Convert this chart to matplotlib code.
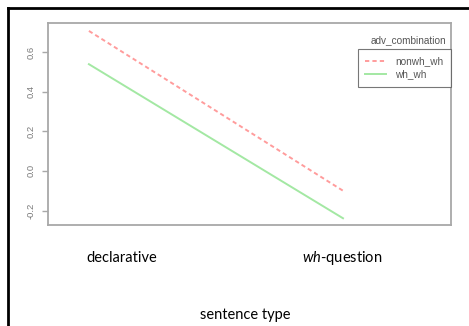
import matplotlib.pyplot as plt
from matplotlib.lines import Line2D

plt.rcParams['mathtext.fontset'] = 'custom'
plt.rcParams['mathtext.it'] = 'Lato:italic'
plt.rcParams['mathtext.rm'] = 'Lato'

sentence_type = ['declarative', r'$\it{wh}$-question']
x_pos = [1, 2]
nonwh_wh = [0.707, -0.10]
wh_wh = [0.539, -0.239]
y_ticks = [-0.2, 0.0, 0.2, 0.4, 0.6]
y_labels = ['-0.2', '0.0', '0.2', '0.4', '0.6']

W, H = 469, 326
fig = plt.figure(figsize=(W / 100, H / 100), dpi=100)

# outer frame (only left and top edges visible)
fig.add_artist(Line2D([8 / W, 8 / W], [0, 1 - 8 / H], color='k', lw=2))
fig.add_artist(Line2D([8 / W, 1], [1 - 8 / H, 1 - 8 / H], color='k', lw=2))

ax = fig.add_axes([48 / W, 101 / H, 403 / W, 202 / H])
gray = '#a8a8a8'
for s in ax.spines.values():
    s.set_color(gray)
    s.set_linewidth(1.3)

ax.plot(x_pos, nonwh_wh, color='#ff9c9c', lw=1.4, ls=(0, (2.2, 1.6)), label='nonwh_wh')
ax.plot(x_pos, wh_wh, color='#a3e8a3', lw=1.4, label='wh_wh')

ax.set_xlim(0.839, 2.425)
ax.set_ylim(-0.273, 0.747)
ax.set_xticks([])
ax.set_yticks(y_ticks)
ax.set_yticklabels(y_labels, rotation=90, va='center', color='#7a7a7a',
                   fontsize=6.8, family='Liberation Sans')
ax.tick_params(axis='y', length=4, width=1, color=gray, pad=5)

leg = ax.legend(loc='upper right', bbox_to_anchor=(1.0, (225 - 49) / 202),
                prop={'family': 'Liberation Sans', 'size': 7.2},
                frameon=True, fancybox=False, edgecolor='#555555',
                handlelength=2.1, handletextpad=0.9, borderpad=0.75,
                labelspacing=0.3, borderaxespad=0)
leg.get_frame().set_linewidth(0.8)
for t in leg.get_texts():
    t.set_color('#555555')
fig.text(446 / W, 1 - 40 / H, 'adv_combination', ha='right', va='center',
         fontsize=7.2, family='Liberation Sans', color='#555555')

fig.text(122 / W, 1 - 258 / H, sentence_type[0], ha='center', va='center',
         fontsize=10.5, family='Lato')
fig.text(342 / W, 1 - 258 / H, sentence_type[1], ha='center', va='center',
         fontsize=10.5, family='Lato')
fig.text(245 / W, 1 - 315 / H, 'sentence type', ha='center', va='center',
         fontsize=10.5, family='Lato')

fig.savefig('out.png', dpi=100)
